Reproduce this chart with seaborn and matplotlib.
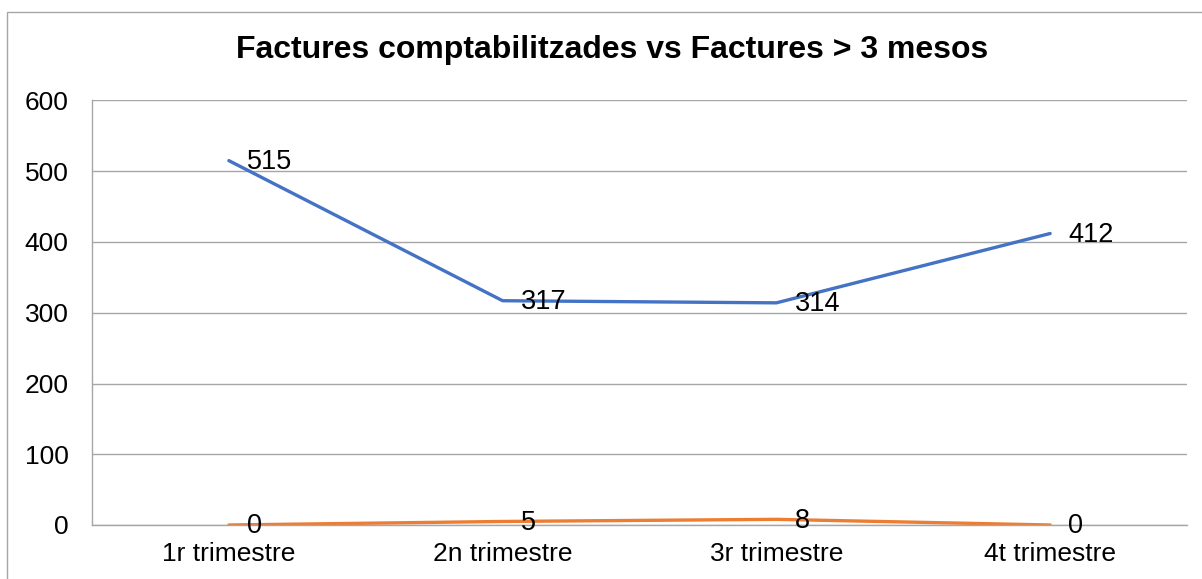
import matplotlib
matplotlib.use("Agg")
import matplotlib.pyplot as plt
import pandas as pd
import seaborn as sns
from matplotlib.patches import Rectangle

categories = ["1r trimestre", "2n trimestre", "3r trimestre", "4t trimestre"]
comptabilitzades = [515, 317, 314, 412]
mes_3_mesos = [0, 5, 8, 0]
series_names = ["Factures comptabilitzades", "Factures > 3 mesos"]
colors = ["#4472C4", "#ED7D31"]

df = pd.DataFrame({
    "trimestre": categories * 2,
    "pos": list(range(len(categories))) * 2,
    "valor": comptabilitzades + mes_3_mesos,
    "serie": [series_names[0]] * 4 + [series_names[1]] * 4,
})

sns.set_style("white")
plt.rcParams["font.family"] = ["Liberation Sans", "DejaVu Sans"]
plt.rcParams["text.color"] = "black"

fig = plt.figure(figsize=(12.02, 5.79), dpi=100)
ax = fig.add_axes([92 / 1202, 1 - 525 / 579, (1187 - 92) / 1202, (525 - 100.5) / 579])

sns.lineplot(data=df, x="pos", y="valor", hue="serie", palette=colors,
             linewidth=2.4, legend=False, ax=ax, sort=False)

# data labels to the right of each point
for name, vals in zip(series_names, [comptabilitzades, mes_3_mesos]):
    for i, v in enumerate(vals):
        ax.annotate(str(v), (i, v), xytext=(13, -1), textcoords="offset points",
                    ha="left", va="center", fontsize=19.5, color="black")

ax.set_xlim(-0.5, 3.5)
ax.set_ylim(0, 600)
ax.set_yticks(range(0, 601, 100))
ax.set_xticks(range(len(categories)))
ax.set_xticklabels(categories)
ax.set_xlabel("")
ax.set_ylabel("")
ax.tick_params(axis="both", length=0, labelsize=19, colors="black")
ax.tick_params(axis="y", pad=17)
ax.tick_params(axis="x", pad=12)
ax.grid(axis="y", color="#A6A6A6", linewidth=1)
ax.set_axisbelow(True)
for side in ["top", "right"]:
    ax.spines[side].set_visible(False)
ax.spines["left"].set_color("#A6A6A6")
ax.spines["bottom"].set_color("#A6A6A6")
ax.spines["left"].set_linewidth(1)
ax.spines["bottom"].set_linewidth(1)

fig.text(612 / 1202, 1 - 50 / 579, "Factures comptabilitzades vs Factures > 3 mesos",
         ha="center", va="center", fontsize=23, fontweight="bold", color="black")

# chart border (right and bottom edges fall outside the picture)
fig.patches.append(Rectangle((7 / 1202, -0.05), 1.2, 1 - 12 / 579 + 0.05,
                             transform=fig.transFigure, fill=False,
                             edgecolor="#A6A6A6", linewidth=1))

fig.savefig("out.png", dpi=100)
